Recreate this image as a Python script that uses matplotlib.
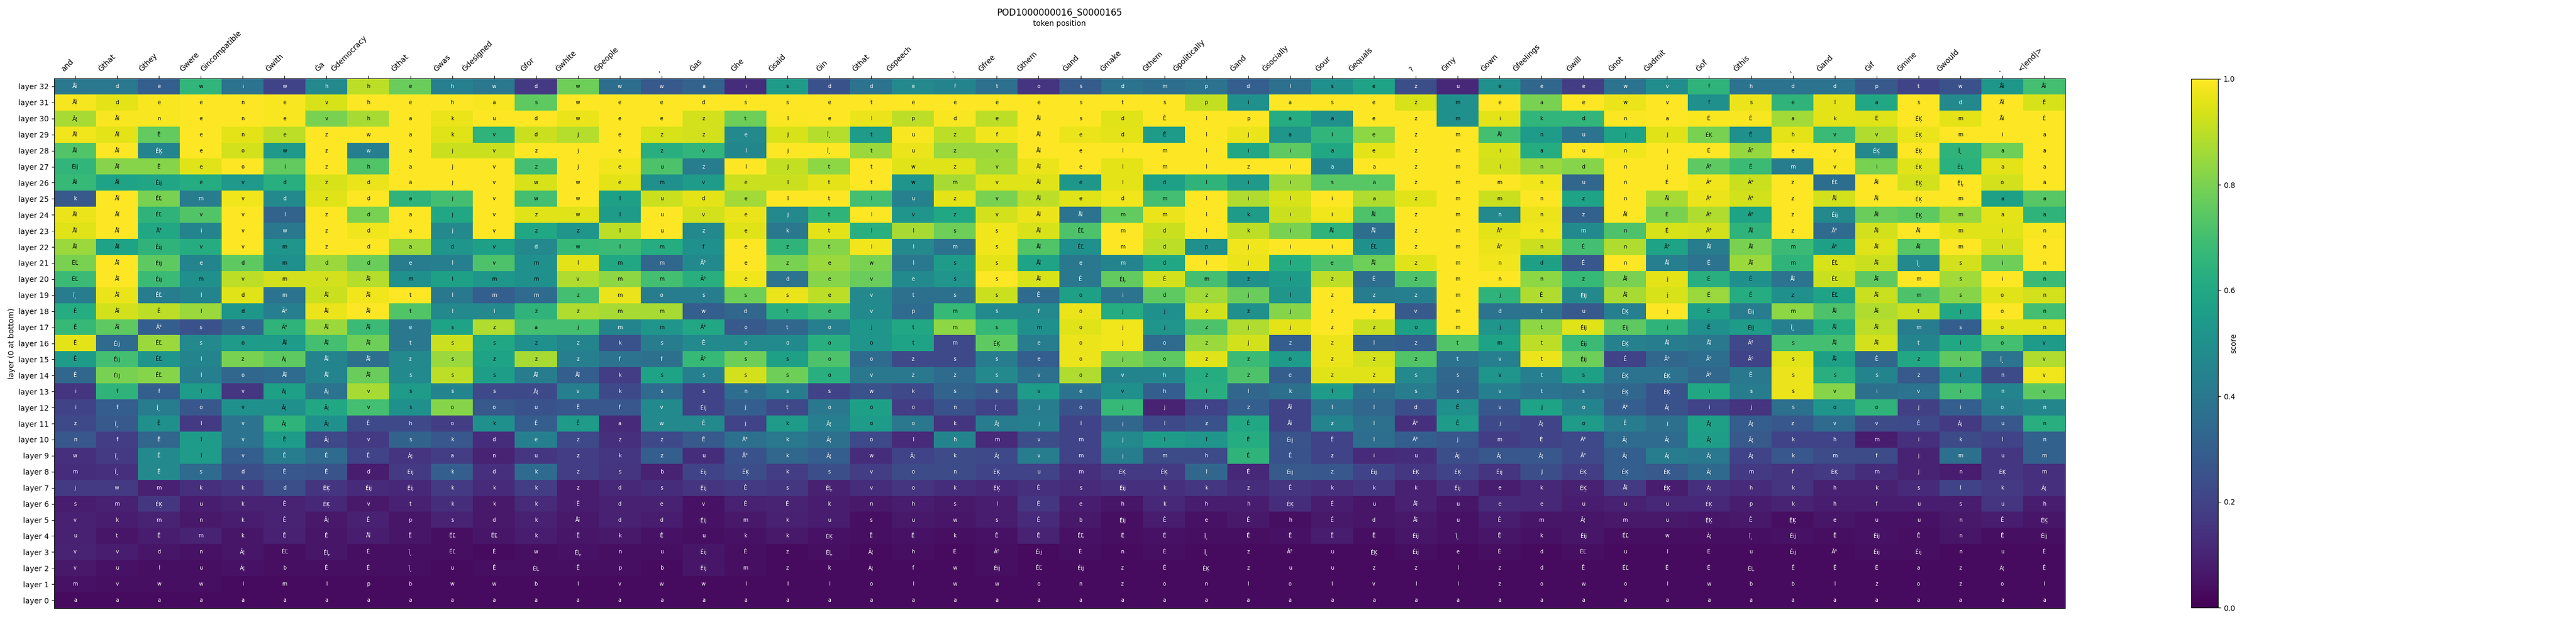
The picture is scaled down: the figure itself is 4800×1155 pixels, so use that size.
import numpy as np
import matplotlib

matplotlib.use('Agg')
import matplotlib.pyplot as plt

title = 'POD1000000016_S0000165'

tokens = ['and', 'Ġthat', 'Ġthey', 'Ġwere', 'Ġincompatible', 'Ġwith', 'Ġa', 'Ġdemocracy',
          'Ġthat', 'Ġwas', 'Ġdesigned', 'Ġfor', 'Ġwhite', 'Ġpeople', ',', 'Ġas',
          'Ġhe', 'Ġsaid', 'Ġin', 'Ġthat', 'Ġspeech', ',', 'Ġfree', 'Ġthem',
          'Ġand', 'Ġmake', 'Ġthem', 'Ġpolitically', 'Ġand', 'Ġsocially', 'Ġour', 'Ġequals',
          '?', 'Ġmy', 'Ġown', 'Ġfeelings', 'Ġwill', 'Ġnot', 'Ġadmit', 'Ġof',
          'Ġthis', ',', 'Ġand', 'Ġif', 'Ġmine', 'Ġwould', '.', '<|end|>']

layers = ['layer %d' % i for i in range(32, -1, -1)]

# top token per cell, layer 32 first
labels = [
    'Åĭ d e w i w h h e h w d w w w a i s d d e f t o s d m p d l s e z u e e e w v f h d d p t w Åĭ Åĭ',
    'Åĭ d e e n e v h e h a s w e e d s s e t e e e e s t s p i a s e z m e a e w v f s e l a s d Åĭ É',
    'Ã¦ Åĭ n e n e v h a k u d w e e z t l e l p d e Åĭ s d Ê l p a a e z m i k d n a É É a k É ÉĶ m Åĭ É',
    'Åĭ Åĭ Ê e n e z w a k v d j e z z e j Î¸ t u z f Åĭ e d Ê l j a i e z m Åĭ n u j j ÉĶ É h v v ÉĶ m i a',
    'Åĭ Åĭ ÉĶ e o w z w a j v z j e z v l j Î¸ t u z v Åĭ e l m l i i a e z m i a u n j É Ã° e v ÉĶ ÉĶ Î¸ a a',
    'Éĳ Åĭ Ê e o i z h a j v z j e u z l j t t w z v Åĭ e l m l z i a a z m i n d n j Ã° É m v i ÉĶ ÉĻ a a',
    'Åĭ Åĭ Éĳ e v d z d a j v w w e m v e l t t w m v Åĭ e l d l i i s a z m m n u n É Ã° Ã° z ÉĽ Åĭ ÉĶ ÉĻ o a',
    'k Åĭ ÉĽ m v d z d a j v w w l u d e l t l u z v Åĭ e d m l i l i a z m m n z n Åĭ Ã° Ã° z Åĭ Åĭ ÉĶ m a a',
    'Åĭ Åĭ ÉĽ v v l z d a j v z w l u v e j t l v z v Åĭ Åĭ m m l k i i Åĭ z m n n z Åĭ É Ã° Ã° z Éĳ Åĭ ÉĶ m a a',
    'Åĭ Åĭ Ã° i v w z d a j v z z l u z e k t l l s s Åĭ ÉĽ m d l k i Åĭ Åĭ z m Ã° n m n É Ã° Åĭ z Ã° Åĭ Åĭ m i n',
    'Åĭ Åĭ Éĳ v v m z d a d v d w l m f e z t l l m s Åĭ ÉĽ m d p j i i ÉĽ z m Ã° n É n Ã° Åĭ Åĭ m Ã° Åĭ Åĭ m i n',
    'ÉĽ Åĭ Éĳ e d m d d e l v m l m m Ã° e z e w l s s Åĭ e m d l j l e Åĭ z m n d É n Åĭ É Åĭ m ÉĽ Åĭ Î¸ s i n',
    'ÉĽ Åĭ Éĳ m v m v Åĭ m l m m v m m Ã° e d e v e s s Åĭ Ê ÉĻ É m z i z É z m n n z Åĭ j É É Åĭ ÉĽ Åĭ m s i n',
    'Î¸ Åĭ ÉĽ l d m Åĭ Åĭ t l m m z m o s s s e v t s s Ê o i d z j l z z z m j É Éĳ Åĭ j É É z ÉĽ Åĭ m s o n',
    'Ê Åĭ Ê l d Ã° Åĭ Åĭ t l l z z m m w d t e v p m s f o j j z z j z z v m d t u ÉĶ j É Éĳ m Åĭ Åĭ t j o n',
    'Ê Åĭ Ã° s o Ã° Åĭ Åĭ e s z a j m m Ã° o t o j t m s m o j j z j j z z o m j t Éĳ Éĳ j É Éĳ Î¸ Åĭ Åĭ m s o n',
    'Ê Éĳ ÉĽ s o Åĭ Åĭ Åĭ t s s z z k s Ê o o o o t m ÉĶ e o j o z j z z l z t m t Éĳ ÉĶ Åĭ Åĭ Ã° s Åĭ Åĭ t i o v',
    'Ê Éĳ ÉĽ l z Ã¦ Åĭ Åĭ z s z z z f f Ã° s s o o z s s e o j o z z o z z z t v t Éĳ É Ã° Ã° Ã° s Åĭ Ê z i Î¸ v',
    'Ê Éĳ ÉĽ l o Åĭ Åĭ Åĭ s s s Åĭ Åĭ k s s s s o v z z s v o v h z z e z z s s v t s ÉĶ ÉĶ Ã° Ê s s s z i n v',
    'i f f l v Ã¦ Ã¦ v s s s Ã¦ v k s s n s s w k s k v e v h l l k l l s s v t s ÉĶ ÉĶ i s s v i v i n v',
    'i f Î¸ o v Ã¦ Ã¦ v s o o u Ê f v Éĳ j t o o o n Î¸ j o j j h z Åĭ l l d Ê v j o Ã° Ã¦ i j s o o j i o n',
    'z Î¸ Ê l v Ã¦ Ã¦ Ê h o k Ê Ê a w Ê j k Ã¦ o o k Ã¦ j l j l z É Åĭ z l Ã° Ê j Ã¦ o Ê j Ã¦ Ã¦ z v v Ê Ã¦ u n',
    'n f Ê l v Ê Ã¦ v s k d e z z z Ê Ã° k Ã¦ o l h m v m j l l É Éĳ É l Ã° j m É Ã° Ã¦ Ã¦ Ã¦ Ã¦ k h m i k l n',
    'w Î¸ Ê l v Ê Ê Ê Ã¦ a n u z k z u Ã° k Ã¦ w Ã¦ k Ã¦ v m j m h É Ê z i u Ã¦ Ã¦ Ã¦ Ã° Ã¦ Ã¦ Ã¦ Ã¦ k m f j m u m',
    'm Î¸ Ê s d Ê Ê d Éĳ k d k z s b Éĳ ÉĶ k s v o n ÉĶ u m ÉĶ ÉĶ l É Éĳ z Éĳ ÉĶ ÉĶ Éĳ j ÉĶ ÉĶ ÉĶ Ã¦ m f ÉĶ m j n ÉĶ m',
    'j w m k k d ÉĶ Éĳ Éĳ k k k z d s Éĳ Ê s ÉĻ v o k ÉĶ É s Éĳ k k z Ê k k k Éĳ e k ÉĶ Åĭ ÉĶ Ã¦ h k h k s l k Ã¦',
    's m ÉĶ u k Ê ÉĶ v t k k k Ê d e v Ê Ê k n h s l É e h k h h ÉĶ É u Åĭ u e e u u u ÉĶ p k h f u s u h',
    'v k m n k Ê Ã¦ Ê p s d k Åĭ d d Éĳ m k u s u w s É b Éĳ Ê e Ê h É d Åĭ u Ê m Ã¦ m u ÉĶ Ê ÉĶ e u u n Ê ÉĶ',
    'u t É m k Ê Ê Åĭ Ê ÉĽ ÉĽ k Ê k Ê u k k ÉĶ Ê É k Ê Ê ÉĽ É É Î¸ Ê Ê Ê Ê Éĳ Î¸ Ê k Éĳ ÉĽ w Ã¦ Î¸ Éĳ Ê Éĳ Ê n Ê Éĳ',
    'v v d n Ã¦ ÉĽ ÉĻ É Î¸ ÉĽ É w ÉĻ n u Éĳ É z ÉĻ Ã¦ h É Ã° Éĳ É n É Î¸ z Ã° u ÉĶ Éĳ e É d ÉĽ u l É u Éĳ Ã° Éĳ Éĳ n u É',
    'v u l u Ã¦ b É É Î¸ u É ÉĻ Ê p b Éĳ m z k Ã¦ f w Éĳ ÉĽ Éĳ z É ÉĶ z u u z z l z d Ê ÉĽ É É ÉĻ É É É a z Ã¦ É',
    'm v w w l m l p b w w b l v w w l l l o l w w o n z o n l o l v l l z o w o l w b b l z o z o l',
    'a a a a a a a a a a a a a a a a a a a a a a a a a a a a a a a a a a a a a a a a a a a a a a a a',
]

scores = [
    [.40, .40, .30, .66, .38, .20, .47, .90, .77, .43, .40, .17, .78, .36, .28, .32, .13, .55, .25, .38, .47, .45, .37, .15, .29, .38, .36, .38, .30, .37, .50, .58, .24, .11, .50, .33, .18, .38, .49, .65, .38, .38, .38, .28, .20, .25, .53, .70],
    [.985, .96, .99, 1.0, 1.0, .99, .94, 1.0, 1.0, 1.0, .99, .75, 1.0, 1.0, 1.0, 1.0, 1.0, 1.0, 1.0, 1.0, 1.0, 1.0, 1.0, 1.0, 1.0, 1.0, 1.0, .91, .50, 1.0, 1.0, 1.0, .94, .50, 1.0, .80, 1.0, .97, 1.0, .50, .97, .65, .96, .60, 1.0, .47, 1.0, .94],
    [.87, .99, .99, 1.0, 1.0, .99, .80, .87, 1.0, .97, 1.0, 1.0, .97, 1.0, 1.0, .93, .78, .995, 1.0, .97, .90, .99, .90, 1.0, 1.0, .95, 1.0, 1.0, 1.0, .62, .50, 1.0, 1.0, .50, .96, .66, .66, .995, 1.0, .99, .99, .86, .96, .95, 1.0, .96, 1.0, 1.0],
    [.98, .96, .76, 1.0, .96, .90, 1.0, 1.0, 1.0, .95, .65, .92, .89, 1.0, .94, .93, .47, .94, .89, .55, .99, .90, .98, 1.0, .97, .96, .55, 1.0, .97, .52, .66, .83, 1.0, 1.0, .70, .55, .38, .58, .95, .80, .50, .96, .68, .88, .97, 1.0, 1.0, 1.0],
    [.73, 1.0, .45, 1.0, .93, .54, 1.0, .43, 1.0, .92, .92, 1.0, 1.0, 1.0, .63, .66, .46, 1.0, 1.0, .85, .97, .85, .85, 1.0, 1.0, 1.0, 1.0, 1.0, .60, .75, .60, .96, 1.0, 1.0, .94, .62, 1.0, .98, 1.0, 1.0, .84, 1.0, 1.0, .47, 1.0, .65, .78, 1.0],
    [.66, .82, .82, .95, 1.0, .76, 1.0, .73, 1.0, 1.0, 1.0, .70, 1.0, .98, .72, .42, 1.0, .91, .83, 1.0, .95, .95, .86, .97, 1.0, .96, 1.0, 1.0, 1.0, 1.0, .45, 1.0, 1.0, 1.0, .93, .85, .82, 1.0, 1.0, .75, .68, .42, .99, .80, .95, .64, .96, 1.0],
    [.67, .58, .59, .62, .54, .63, .94, .97, 1.0, 1.0, 1.0, .94, 1.0, .96, .50, .55, .92, .92, .96, 1.0, .52, .87, .95, .95, .53, .96, .57, .65, .54, .85, .74, .74, 1.0, 1.0, 1.0, .98, .33, 1.0, 1.0, .98, .92, 1.0, .36, 1.0, .93, 1.0, .93, 1.0],
    [.28, 1.0, .80, .42, .98, .47, .95, 1.0, .65, .70, 1.0, .70, 1.0, .57, .92, .96, .86, 1.0, 1.0, .70, .44, .96, .80, .90, .95, .98, .70, 1.0, .88, .94, 1.0, .88, .95, 1.0, .92, 1.0, .58, 1.0, .87, .97, .93, 1.0, .93, 1.0, 1.0, 1.0, .57, .74],
    [.97, 1.0, .65, .73, 1.0, .32, 1.0, .80, 1.0, .60, 1.0, .95, .95, .55, 1.0, .93, .97, .47, .65, 1.0, .52, .60, .93, .97, .38, .76, .97, 1.0, .55, .92, .98, .72, 1.0, 1.0, .47, .97, .31, 1.0, .80, .88, .58, 1.0, .47, .77, .75, .84, .96, .65],
    [.95, 1.0, .60, .45, 1.0, .40, 1.0, .98, 1.0, .47, 1.0, .60, .52, .90, 1.0, .47, .95, .40, .96, .63, .87, .78, .98, .94, .72, 1.0, .92, 1.0, .90, .80, .65, .36, 1.0, 1.0, .96, .98, .48, .72, .94, .93, .65, 1.0, .35, .93, 1.0, .95, .95, .99],
    [.85, .58, .65, .62, 1.0, .52, 1.0, 1.0, .85, .52, .57, .47, .67, .68, .62, .50, 1.0, .65, .82, .98, .47, .38, .98, .73, .50, 1.0, .90, .50, .98, 1.0, 1.0, .50, 1.0, 1.0, .97, .92, .70, .88, .58, .42, .80, .68, .57, .95, .74, 1.0, .93, 1.0],
    [.80, 1.0, .75, .45, .75, .50, .85, .77, .42, .43, .72, .50, .96, .60, .33, .48, 1.0, .80, .85, .80, .40, .55, .96, .58, .40, .45, .60, 1.0, .97, .62, .72, .78, .95, 1.0, .98, .57, .27, 1.0, .43, .38, .85, .65, .94, .92, .47, .93, .78, 1.0],
    [.68, 1.0, .68, .50, .90, .93, .93, .89, .50, .57, .53, .50, .88, .83, .70, .63, .98, .38, .82, .77, .48, .52, 1.0, .94, .40, .76, .93, .70, .50, .55, .90, .36, .72, 1.0, 1.0, .83, .67, .80, .96, .63, .50, .38, .92, .75, 1.0, .86, 1.0, .68],
    [.42, .97, .42, .45, .95, .38, .92, .98, 1.0, .40, .30, .35, .70, .97, .42, .42, .78, .97, .90, .47, .37, .37, .92, .35, .57, .38, .75, .86, .77, .52, 1.0, .42, .43, 1.0, .65, .88, .47, .87, .94, .85, .62, .50, .58, .92, .72, .82, .95, .93],
    [.62, .93, .90, .85, .53, .43, .97, 1.0, .73, .47, .47, .65, .88, .87, .87, .30, .33, .63, .68, .48, .35, .67, .48, .47, .97, .62, .50, .93, .50, .82, 1.0, 1.0, .28, 1.0, .38, .38, .28, .43, 1.0, .57, .42, .83, .72, .88, .92, .60, 1.0, .70],
    [.67, .75, .30, .25, .33, .65, .85, .68, .40, .58, .88, .70, .70, .45, .52, .60, .28, .33, .43, .53, .60, .83, .67, .50, .95, .98, .52, .72, .88, .96, 1.0, .92, .57, 1.0, .52, .83, .95, .75, .65, .50, .55, .43, .62, .90, .42, .30, .95, .95],
    [.96, .35, .85, .47, .55, .55, .70, .78, .40, .92, .60, .50, .45, .25, .42, .48, .47, .48, .63, .52, .58, .22, .75, .42, .97, .98, .35, .85, .93, .30, .97, .32, .30, .73, .58, .90, .68, .44, .42, .40, .22, .70, .70, .93, .45, .60, .70, .55],
    [.55, .70, .52, .45, .80, .75, .45, .37, .47, .85, .58, .87, .43, .38, .37, .67, .78, .57, .72, .35, .22, .22, .42, .30, .97, .80, .75, .95, .68, .55, .97, .93, .73, .38, .43, .97, .78, .20, .33, .36, .20, .95, .57, .33, .60, .75, .38, .88],
    [.33, .80, .82, .43, .33, .35, .45, .77, .48, .90, .56, .42, .30, .18, .58, .43, .93, .78, .63, .40, .40, .35, .47, .37, .88, .45, .45, .62, .72, .30, .95, .95, .47, .33, .52, .43, .57, .38, .38, .33, .40, .97, .63, .45, .28, .50, .23, .98],
    [.15, .65, .30, .55, .16, .57, .38, .87, .55, .45, .22, .22, .43, .22, .35, .20, .36, .42, .20, .25, .22, .32, .28, .55, .38, .50, .30, .63, .33, .37, .55, .37, .42, .32, .43, .38, .37, .33, .25, .60, .42, .97, .82, .37, .38, .70, .45, .75],
    [.20, .30, .42, .27, .50, .50, .60, .70, .50, .82, .28, .25, .27, .27, .48, .20, .30, .22, .40, .57, .18, .25, .20, .42, .25, .67, .10, .20, .30, .20, .38, .33, .24, .50, .27, .58, .45, .30, .25, .20, .15, .37, .52, .65, .19, .30, .42, .46],
    [.22, .28, .50, .17, .38, .65, .50, .22, .22, .18, .50, .30, .55, .12, .47, .47, .20, .55, .43, .55, .40, .15, .42, .43, .20, .33, .22, .25, .60, .20, .45, .37, .14, .55, .22, .20, .55, .42, .37, .57, .30, .27, .35, .23, .22, .17, .27, .63],
    [.27, .18, .33, .55, .38, .55, .22, .17, .32, .27, .13, .43, .22, .14, .22, .28, .37, .40, .37, .22, .12, .45, .12, .24, .20, .47, .55, .52, .62, .26, .20, .36, .30, .27, .18, .20, .22, .35, .35, .56, .28, .20, .20, .08, .14, .23, .20, .31],
    [.14, .17, .47, .55, .30, .42, .35, .20, .15, .18, .10, .16, .18, .16, .30, .13, .25, .33, .30, .13, .20, .23, .22, .42, .20, .42, .23, .23, .65, .25, .20, .12, .13, .24, .27, .27, .22, .30, .42, .40, .20, .27, .23, .23, .10, .37, .16, .31],
    [.13, .14, .47, .35, .24, .27, .26, .08, .17, .30, .14, .35, .18, .15, .10, .20, .24, .18, .24, .18, .23, .23, .20, .20, .14, .17, .17, .33, .11, .28, .27, .20, .16, .20, .15, .24, .18, .30, .28, .34, .17, .15, .17, .13, .10, .08, .16, .14],
    [.17, .17, .09, .14, .16, .24, .15, .12, .11, .17, .12, .18, .08, .11, .13, .15, .17, .16, .09, .13, .15, .13, .11, .14, .12, .14, .14, .16, .13, .15, .14, .16, .09, .14, .08, .11, .09, .17, .08, .14, .12, .15, .09, .09, .12, .20, .17, .14],
    [.08, .09, .16, .08, .10, .10, .11, .07, .09, .13, .07, .12, .08, .09, .09, .05, .09, .10, .08, .07, .08, .07, .08, .16, .08, .06, .11, .08, .08, .13, .08, .06, .09, .06, .12, .11, .08, .09, .11, .11, .08, .10, .08, .08, .08, .08, .15, .08],
    [.09, .08, .10, .07, .08, .10, .07, .09, .06, .10, .07, .09, .07, .09, .08, .05, .07, .09, .08, .04, .07, .06, .08, .12, .07, .04, .08, .05, .07, .04, .07, .06, .07, .05, .08, .06, .06, .07, .07, .06, .07, .04, .06, .05, .05, .07, .08, .06],
    [.09, .06, .08, .10, .06, .09, .06, .08, .06, .04, .06, .08, .06, .07, .05, .04, .05, .07, .05, .04, .05, .04, .05, .10, .05, .04, .05, .04, .04, .05, .08, .04, .06, .05, .06, .05, .06, .04, .04, .04, .04, .05, .04, .05, .04, .06, .04, .04],
    [.10, .08, .06, .05, .06, .04, .06, .04, .04, .04, .03, .04, .05, .04, .04, .06, .04, .03, .04, .03, .04, .03, .04, .03, .04, .03, .04, .03, .03, .03, .03, .03, .04, .03, .04, .03, .04, .03, .03, .03, .03, .03, .03, .04, .04, .03, .03, .03],
    [.07, .05, .04, .04, .05, .04, .04, .04, .04, .03, .04, .04, .04, .04, .03, .06, .04, .03, .03, .03, .03, .03, .04, .03, .03, .03, .03, .03, .03, .03, .03, .03, .03, .03, .03, .03, .03, .03, .03, .03, .03, .03, .03, .03, .03, .03, .03, .03],
    [.05, .04, .04, .04, .03, .03, .03, .03, .03, .03, .03, .03, .03, .03, .03, .03, .03, .03, .03, .03, .03, .03, .03, .03, .03, .03, .03, .03, .03, .03, .03, .03, .03, .03, .03, .03, .03, .03, .03, .03, .03, .03, .03, .03, .03, .03, .03, .03],
    [.03, .03, .03, .03, .03, .03, .03, .03, .03, .03, .03, .03, .03, .03, .03, .03, .03, .03, .03, .03, .03, .03, .03, .03, .03, .03, .03, .03, .03, .03, .03, .03, .03, .03, .03, .03, .03, .03, .03, .03, .03, .03, .03, .03, .03, .03, .03, .03],
]

scores = np.array(scores)
cell_text = [row.split() for row in labels]
for i, row in enumerate(cell_text):
    assert len(row) == 48, (i, len(row))

fig = plt.figure(figsize=(48, 11.55), dpi=100)
ax = fig.add_axes([101 / 4800, 1 - 1133 / 1155, (3848 - 101) / 4800, (1133 - 146) / 1155])
im = ax.imshow(scores, cmap='viridis', vmin=0, vmax=1, aspect='auto', interpolation='nearest')

ax.xaxis.tick_top()
ax.xaxis.set_label_position('top')
ax.set_xticks(range(len(tokens)))
ax.set_xticklabels(tokens, rotation=45, ha='right')
ax.set_yticks(range(len(layers)))
ax.set_yticklabels(layers)
ax.set_xlabel('token position')
ax.set_ylabel('layer (0 at bottom)')
ax.set_title(title)

for y, row in enumerate(cell_text):
    for x, txt in enumerate(row):
        color = 'white' if scores[y, x] < 0.5 else 'black'
        ax.text(x, y, txt, ha='center', va='center', fontsize=7, color=color)

cax = fig.add_axes([4083 / 4800, 1 - 1132 / 1155, 50 / 4800, (1132 - 147) / 1155])
cbar = fig.colorbar(im, cax=cax)
cbar.set_label('score', labelpad=-6.5)

fig.savefig('out.png', dpi=100)
